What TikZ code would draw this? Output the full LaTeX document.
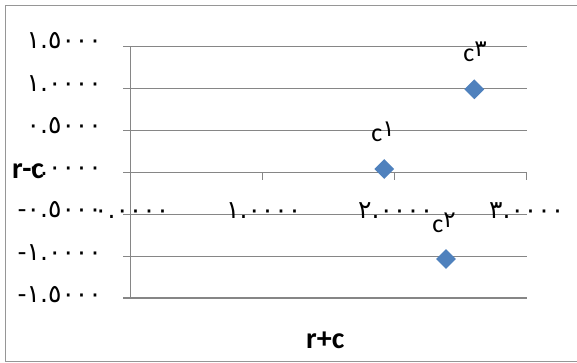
\documentclass[tikz,border=0pt]{standalone}
\usepackage{fontspec}
\setmainfont{Carlito}
\newfontfamily\djfont{DejaVu Sans}
\usetikzlibrary{shapes.geometric}
\definecolor{gridgray}{RGB}{134,134,134}
\definecolor{framegray}{RGB}{150,150,150}
\definecolor{ptblue}{RGB}{79,129,189}
\newcommand\ardig[1]{{\djfont\fontsize{23}{25}\selectfont #1}}
\begin{document}
\begin{tikzpicture}[x=1pt,y=-1pt,
  gridline/.style={draw=gridgray, line width=1.2pt},
  frameline/.style={draw=framegray, line width=1.5pt},
  ylab/.style={font=\djfont\fontsize{25}{27}\selectfont, anchor=base east, inner sep=0pt},
  xlab/.style={font=\djfont\fontsize{25}{27}\selectfont, anchor=base, inner sep=0pt},
  datapt/.style={diamond, aspect=1, fill=ptblue, minimum size=20pt, inner sep=0pt},
  dlab/.style={font=\fontsize{26}{28}\selectfont, inner sep=0pt, anchor=base},
  axtitle/.style={font=\bfseries\fontsize{30}{32}\selectfont, inner sep=0pt, anchor=base west}]
\useasboundingbox (0,0) rectangle (577,363);
\clip (0,0) rectangle (577,363);
\draw[frameline] (5.5,5.5) rectangle (580,361.5);
% gridlines
\foreach \v in {1.5,1,0.5,0,-0.5,-1,-1.5}
  \draw[gridline] (123,{172.3-83.8*\v}) -- (526.7,{172.3-83.8*\v});
% y axis
\draw[gridline] (130.7,46.7) -- (130.7,298);
% x ticks
\foreach \u in {1,2,3}
  \draw[gridline] ({130.7+132*\u},172.3) -- ++(0,8);
% y labels
\node[ylab] (y15) at (102,49) {١.٥٠٠٠};
\node[ylab] (y10) at (102,92) {١.٠٠٠٠};
\node[ylab] (y05) at (102,134) {٠.٥٠٠٠};
\node[ylab] (y00) at (102,176) {٠.٠٠٠٠};
\node[ylab] (ym05) at (102,217.5) {-٠.٥٠٠٠};
\node[ylab] (ym10) at (102,260) {-١.٠٠٠٠};
\node[ylab] (ym15) at (102,302) {-١.٥٠٠٠};
% x labels
\node[xlab] (x0) at (131.7,218.5) {٠.٠٠٠٠};
\node[xlab] (x1) at (263.7,218.5) {١.٠٠٠٠};
\node[xlab] (x2) at (395.7,218.5) {٢.٠٠٠٠};
\node[xlab] (x3) at (526.7,218.5) {٣.٠٠٠٠};
% data points
\node[datapt] (c1) at (384.3,169) {};
\node[datapt] (c2) at (446,259) {};
\node[datapt] (c3) at (474.3,89.3) {};
% data labels
\node[dlab] (l1) at (383,142) {c\raisebox{5pt}{\ardig{١}}};
\node[dlab] (l2) at (444,232) {c\raisebox{5pt}{\ardig{٢}}};
\node[dlab] (l3) at (475,62) {c\raisebox{5pt}{\ardig{٣}}};
% axis titles
\node[axtitle] (ty) at (12,178.3) {r-c};
\node[axtitle] (tx) at (306,348) {r+c};
\end{tikzpicture}
\end{document}
